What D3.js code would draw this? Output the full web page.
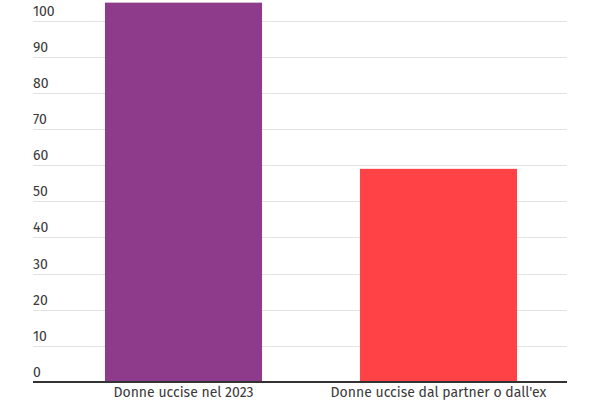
<!DOCTYPE html>
<html>
<head>
<meta charset="utf-8">
<script src="https://cdn.jsdelivr.net/npm/d3@7"></script>
<style>
  body { margin: 0; background: #fff; }
  text { font-family: "Fira Sans", Roboto, sans-serif; }
</style>
</head>
<body>
<div id="chart"></div>
<script>
// data
var categories = ["Donne uccise nel 2023", "Donne uccise dal partner o dall'ex"];
var values = [105, 59];
var barColors = ["#8f3b8b", "#ff4245"];
var yTicks = [0, 10, 20, 30, 40, 50, 60, 70, 80, 90, 100];

var width = 600;
var height = 400;
var svg = d3.select("#chart")
    .append("svg")
    .attr("width", width)
    .attr("height", height);

var gridLeft = 33, gridRight = 567;

var y = d3.scaleLinear()
    .domain([0, 100])
    .range([382, 20.7]);

var x = d3.scaleBand()
    .domain(categories)
    .range([56, 566])
    .paddingInner(0.384)
    .paddingOuter(0.192);

// gridlines + labels
var grid = svg.append("g");
grid.selectAll("line")
    .data(yTicks.filter(d => d > 0))
    .enter()
    .append("line")
    .attr("x1", gridLeft)
    .attr("x2", gridRight)
    .attr("y1", d => Math.round(y(d)) + 0.5)
    .attr("y2", d => Math.round(y(d)) + 0.5)
    .attr("stroke", "#e3e3e3")
    .attr("stroke-width", 1);

grid.selectAll("text")
    .data(yTicks)
    .enter()
    .append("text")
    .attr("x", gridLeft)
    .attr("y", d => y(d) - 5)
    .attr("fill", "#3a3a3a")
    .attr("font-size", 14)
    .text(d => d);

// bars
svg.selectAll("rect.bar")
    .data(values)
    .enter()
    .append("rect")
    .attr("class", "bar")
    .attr("x", (d, i) => x(categories[i]))
    .attr("width", x.bandwidth())
    .attr("y", d => y(d))
    .attr("height", d => y(0) - y(d))
    .attr("fill", (d, i) => barColors[i]);

// baseline
svg.append("line")
    .attr("x1", gridLeft)
    .attr("x2", gridRight)
    .attr("y1", y(0))
    .attr("y2", y(0))
    .attr("stroke", "#333")
    .attr("stroke-width", 2);

// category labels
svg.selectAll("text.cat")
    .data(categories)
    .enter()
    .append("text")
    .attr("class", "cat")
    .attr("x", d => x(d) + x.bandwidth() / 2)
    .attr("y", 397)
    .attr("text-anchor", "middle")
    .attr("fill", "#3a3a3a")
    .attr("font-size", 14)
    .text(d => d);
</script>
</body>
</html>
